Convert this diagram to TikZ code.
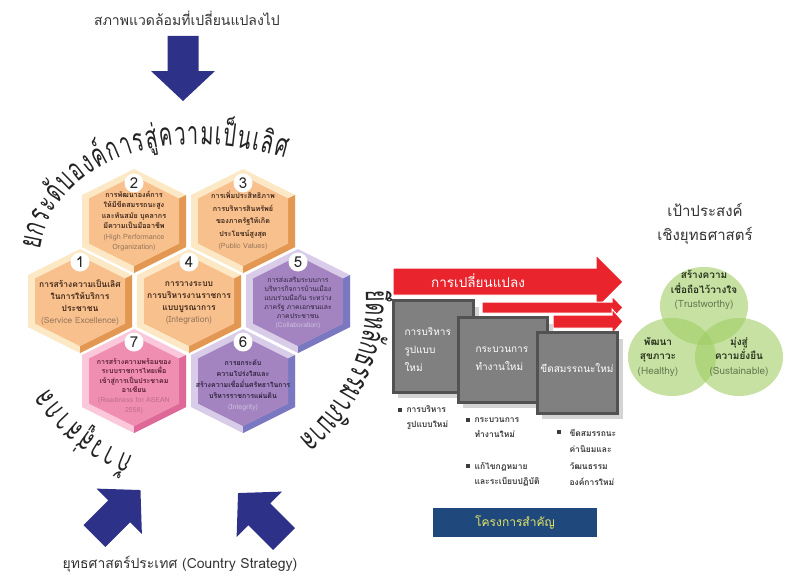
\documentclass[tikz,border=0pt]{standalone}
\usepackage{fontspec}
\setmainfont[Script=Thai]{Loma}
\newfontfamily\arcfont[Script=Thai,FakeStretch=0.62]{Loma}
\usetikzlibrary{decorations.text}

\definecolor{navy}{RGB}{46,49,136}
\definecolor{redarrow}{RGB}{234,36,44}
\definecolor{orgM}{RGB}{248,192,140}
\definecolor{orgL}{RGB}{253,232,198}
\definecolor{orgD}{RGB}{226,152,82}
\definecolor{purM}{RGB}{163,132,192}
\definecolor{purL}{RGB}{216,204,232}
\definecolor{purD}{RGB}{122,120,192}
\definecolor{pinkM}{RGB}{240,142,178}
\definecolor{pinkL}{RGB}{250,200,218}
\definecolor{pinkD}{RGB}{222,104,152}
\definecolor{orgtxt}{RGB}{66,42,28}
\definecolor{orgeng}{RGB}{150,118,92}
\definecolor{purtxt}{RGB}{48,34,62}
\definecolor{pureng}{RGB}{206,192,222}
\definecolor{pinktxt}{RGB}{88,30,50}
\definecolor{pinkeng}{RGB}{192,108,140}
\definecolor{arcgray}{RGB}{35,35,35}
\definecolor{boxgray}{RGB}{128,128,128}
\definecolor{boxedge}{RGB}{82,82,82}
\definecolor{shadowgray}{RGB}{212,212,212}
\definecolor{listgray}{RGB}{60,60,60}
\definecolor{projblue}{RGB}{31,73,125}
\definecolor{projyellow}{RGB}{232,230,100}
\definecolor{vgreen}{RGB}{160,205,100}
\definecolor{venntxt}{RGB}{40,50,30}
\definecolor{venneng}{RGB}{100,120,80}

\newcommand{\arcfmt}{\arcfont\fontsize{32}{32}\selectfont}

% one bevelled honeycomb cell: centre, colour family
\newcommand{\hexcell}[2]{%
  \begin{scope}[shift={#1}]
    \fill[#2L] (0,-52) -- (52,-26) -- (52,26) -- (0,52) -- (-52,26) -- (-52,-26) -- cycle;
    \fill[#2D] (52,-26) -- (52,26) -- (0,52) -- (0,45) -- (45,22.5) -- (45,-22.5) -- cycle;
    \fill[#2M] (0,-45) -- (45,-22.5) -- (45,22.5) -- (0,45) -- (-45,22.5) -- (-45,-22.5) -- cycle;
  \end{scope}}

\tikzset{
  bigarrow/.pic={\fill[navy] (0,-15.5) -- (35,-15.5) -- (35,-32) -- (65,0) -- (35,32) -- (35,15.5) -- (0,15.5) -- cycle;},
  arctext/.style={decorate, decoration={text along path, text align={fit to path}, text color=arcgray, text={#1}}},
  headtext/.style={font=\fontsize{14}{16}\selectfont, text=black!80},
  hexnum/.style={circle, fill=white, inner sep=0pt, minimum size=19, font=\fontsize{15}{15}\selectfont, text=black!85},
  goalbig/.style={align=center, font=\fontsize{8.5}{12}\selectfont\bfseries},
  goalsmall/.style={align=center, font=\fontsize{7.2}{10.4}\selectfont\bfseries},
  goaltiny/.style={align=center, font=\fontsize{6.8}{9}\selectfont},
  redarr/.style={fill=redarrow, draw=white, line width=1},
  projbox/.style={fill=boxgray, draw=boxedge, line width=3},
  boxshadow/.style={fill=shadowgray},
  boxtext/.style={align=left, text=white, font=\fontsize{10}{18}\selectfont},
  listtext/.style={align=left, anchor=west, text=listgray, font=\fontsize{8.5}{15}\selectfont\bfseries},
  venn/.style={fill=vgreen, fill opacity=0.6},
  venntext/.style={align=center, text=venntxt, font=\fontsize{10}{14.5}\selectfont\bfseries},
}

\begin{document}
\begin{tikzpicture}[x=1pt,y=-1pt]
\useasboundingbox (0,0) rectangle (792,578);

% driving forces
\node[headtext] (env) at (187,18) {สภาพแวดล้อมที่เปลี่ยนแปลงไป};
\pic[rotate=-90] at (183,36) {bigarrow};
\pic[rotate=45] at (94.5,536) {bigarrow};
\pic[rotate=135] at (284,539) {bigarrow};
\node[headtext] (country) at (180,564) {ยุทธศาสตร์ประเทศ (Country Strategy)};

% texts round the honeycomb
\path[arctext={|\arcfmt|ยกระ{ดั}บอง{ค์}การ{สู่}ความเ{ป็}นเ{ลิ}ศ}]
  (40,250) .. controls (52,170) and (150,118) .. (285,158);
\path[arctext={|\arcfmt|{ก้}าว{สู่}สากล}]
  ([shift={(-250:166)}]190,300) arc[start angle=-250, end angle=-212, radius=166];
\path[arctext={|\arcfmt|{ยึ}ดห{ลั}กธรรมา{ภิ}บาล}]
  ([shift={(-3:176)}]190,300) arc[start angle=-3, end angle=50, radius=176];

% honeycomb
\hexcell{(134,221)}{org}
\hexcell{(243,221)}{org}
\hexcell{(80,301)}{org}
\hexcell{(189,301)}{org}
\hexcell{(298,301)}{pur}
\hexcell{(134,381)}{pink}
\hexcell{(243,381)}{pur}

\node[hexnum] (n1) at (80,262) {1};
\node[hexnum] (n2) at (134,183) {2};
\node[hexnum] (n3) at (243,183) {3};
\node[hexnum] (n4) at (189,262) {4};
\node[hexnum] (n5) at (298,262) {5};
\node[hexnum] (n6) at (243,342) {6};
\node[hexnum] (n7) at (134,342) {7};

\node[goalbig, text=orgtxt] (g1) at (80,302)
  {การสร้างความเป็นเลิศ\\ในการให้บริการ\\ประชาชน\\\textcolor{orgeng}{\mdseries (Service Excellence)}};
\node[goalsmall, text=orgtxt] (g2) at (134,221)
  {การพัฒนาองค์การ\\ให้มีขีดสมรรถนะสูง\\และทันสมัย บุคลากร\\มีความเป็นมืออาชีพ\\\textcolor{orgeng}{\mdseries (High Performance}\\\textcolor{orgeng}{\mdseries Organization)}};
\node[goalsmall, text=orgtxt, font=\fontsize{7.2}{12.5}\selectfont\bfseries] (g3) at (243,221)
  {การเพิ่มประสิทธิภาพ\\การบริหารสินทรัพย์\\ของภาครัฐให้เกิด\\ประโยชน์สูงสุด\\\textcolor{orgeng}{\mdseries (Public Values)}};
\node[goalbig, text=orgtxt] (g4) at (189,303)
  {การวางระบบ\\การบริหารงานราชการ\\แบบบูรณาการ\\\textcolor{orgeng}{\mdseries (Integration)}};
\node[goaltiny, text=purtxt] (g5) at (298,303)
  {การส่งเสริมระบบการ\\บริหารกิจการบ้านเมือง\\แบบร่วมมือกัน ระหว่าง\\ภาครัฐ ภาคเอกชนและ\\ภาคประชาชน\\\textcolor{pureng}{(Collaboration)}};
\node[goalsmall, text=purtxt, font=\fontsize{7}{11}\selectfont\bfseries] (g6) at (243,385)
  {การยกระดับ\\ความโปร่งใสและ\\สร้างความเชื่อมั่นศรัทธาในการ\\บริหารราชการแผ่นดิน\\\textcolor{pureng}{\mdseries (Integrity)}};
\node[goalsmall, text=pinktxt, font=\fontsize{7}{9.6}\selectfont\bfseries] (g7) at (134,386)
  {การสร้างความพร้อมของ\\ระบบราชการไทยเพื่อ\\เข้าสู่การเป็นประชาคม\\อาเซียน\\\textcolor{pinkeng}{\mdseries (Readiness for ASEAN}\\\textcolor{pinkeng}{\mdseries 2558)}};

% change arrows
\filldraw[redarr] (393,268) -- (596,268) -- (596,255) -- (623,282) -- (596,309) -- (596,295) -- (393,295) -- cycle;
\filldraw[redarr] (482,302) -- (612,302) -- (612,296) -- (623,307.5) -- (612,319) -- (612,313) -- (482,313) -- cycle;
\filldraw[redarr] (553,315) -- (612,315) -- (612,309) -- (623,321.5) -- (612,334) -- (612,328) -- (553,328) -- cycle;
\node[text=white, font=\fontsize{13.5}{13.5}\selectfont] (change) at (478,281) {การเปลี่ยนแปลง};

% key projects
\fill[boxshadow] (398,307) rectangle (479,398);
\draw[projbox] (393,300) rectangle (473,392);
\fill[boxshadow] (463,324) rectangle (553,408);
\draw[projbox] (458,317) rectangle (547,402);
\fill[boxshadow] (542,339) rectangle (623,419);
\draw[projbox] (537,332) rectangle (617,413);
\node[boxtext, anchor=west] (b1) at (401,350) {การบริหาร\\รูปแบบ\\ใหม่};
\node[boxtext, anchor=west] (b2) at (472,359) {กระบวนการ\\ทำงานใหม่};
\node[boxtext] (b3) at (577,368) {ขีดสมรรถนะใหม่};

\fill[listgray] (398,408) rectangle (402,412);
\node[listtext] (l1) at (403,417.5) {การบริหาร\\รูปแบบใหม่};
\fill[listgray] (466,418) rectangle (470,422);
\node[listtext] (l2) at (471,428) {กระบวนการ\\ทำงานใหม่};
\fill[listgray] (466,464) rectangle (470,468);
\node[listtext] (l3) at (471,474.5) {แก้ไขกฎหมาย\\และระเบียบปฏิบัติ};
\fill[listgray] (557,430) rectangle (561,434);
\node[listtext, font=\fontsize{8.5}{16.3}\selectfont\bfseries] (l4) at (566,457.5) {ขีดสมรรถนะ\\ค่านิยมและ\\วัฒนธรรม\\องค์การใหม่};

\node[fill=projblue, minimum width=164, minimum height=29, text=projyellow, font=\fontsize{12}{12}\selectfont] (proj) at (515,522.5) {โครงการสำคัญ};

% strategic goals
\node[headtext, align=center, font=\fontsize{15}{24}\selectfont] (goals) at (705,224) {เป้าประสงค์\\เชิงยุทธศาสตร์};
\fill[venn] (704,306) ellipse[x radius=44, y radius=39];
\fill[venn] (672,357) ellipse[x radius=44, y radius=39];
\fill[venn] (739,357) ellipse[x radius=44, y radius=39];
\node[venntext] (trust) at (704,290) {สร้างความ\\เชื่อถือไว้วางใจ\\\textcolor{venneng}{\mdseries (Trustworthy)}};
\node[venntext] (healthy) at (658,357) {พัฒนา\\สุขภาวะ\\\textcolor{venneng}{\mdseries (Healthy)}};
\node[venntext] (sustain) at (739,357) {มุ่งสู่\\ความยั่งยืน\\\textcolor{venneng}{\mdseries (Sustainable)}};
\end{tikzpicture}
\end{document}
